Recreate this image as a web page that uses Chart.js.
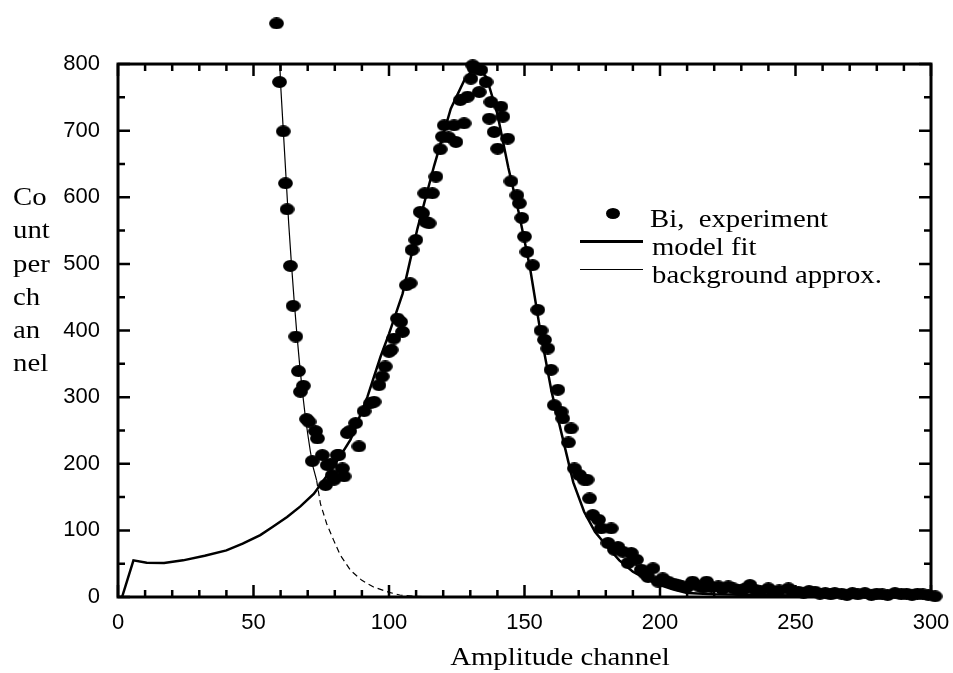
<!DOCTYPE html>
<html>
<head>
<meta charset="utf-8">
<script src="https://cdn.jsdelivr.net/npm/chart.js@4.4.1/dist/chart.umd.min.js"></script>
<style>
  html, body { margin: 0; padding: 0; background: #fff; }
  #wrap { position: relative; width: 953px; height: 673px; }
  .serif { position: absolute; font-family: "Liberation Serif", "Times New Roman", serif; font-size: 25px; color: #000; white-space: pre; transform-origin: left top; transform: scaleX(1.15); }
</style>
</head>
<body>
<div id="wrap">
  <canvas id="chart" width="953" height="673"></canvas>
  <div class="serif" style="left:13px; top:180px; line-height:33.3px;">Co<br>unt<br>per<br>ch<br>an<br>nel</div>
  <div class="serif" style="left:560px; top:644px; line-height:25px; transform-origin:center; transform:translateX(-50%) scaleX(1.15);">Amplitude channel</div>
  <div style="position:absolute; left:606px; top:208px; width:14px; height:11px; border-radius:50%; background:#000;"></div>
  <div style="position:absolute; left:580px; top:240px; width:63px; height:2.5px; background:#000;"></div>
  <div style="position:absolute; left:580px; top:269px; width:63px; height:1.2px; background:#000;"></div>
  <div class="serif" style="left:650px; top:206px; line-height:25px;">Bi,  experiment</div>
  <div class="serif" style="left:652px; top:234px; line-height:25px;">model fit</div>
  <div class="serif" style="left:652px; top:262px; line-height:25px;">background approx.</div>
</div>
<script>
// tick labels
const xTicks = [0, 50, 100, 150, 200, 250, 300];
const yTicks = [0, 100, 200, 300, 400, 500, 600, 700, 800];
const xMinorStep = 10;
const yMinorStep = 50;
// the y scale runs a bit past the frame so the one high point above it still shows
const yTop = 870;

// Bi, experiment (channel, counts)
const expX = [58.5, 59.6, 61, 61.8, 62.4, 63.6, 64.6, 65.6, 66.6, 67.3, 68.4, 69.6, 70.5, 71.7, 72.9, 73.6,
  75.4, 76.6, 77.2, 78.4, 79.1, 79.7, 80.9, 81.5, 82.8, 83.4, 84.6, 85.5, 87.7, 88.9, 90.8, 93.2, 94.5,
  96.3, 97.5, 98.6, 100, 100.8, 101.8, 103.1, 104.3, 105, 106.4, 107.8, 108.5, 109.9, 111.5, 112.4, 113.2,
  113.6, 114.8, 116, 117.3, 118.9, 119.7, 120.4, 122, 124, 124.7, 126.3, 127.7, 129, 130.2, 130.9, 131.5,
  133.3, 133.9, 135.8, 137, 137.6, 138.8, 140.1, 141.3, 142, 143.8, 145, 147.2, 148.1, 149, 150, 150.9,
  153, 154.9, 156.1, 157.4, 158.6, 159.8, 161, 162.3, 163.5, 164.1, 166.2, 167.2, 168.4, 170.3, 172, 173.1,
  174, 175.2, 177.3, 178.3, 180.8, 182, 183.2, 184.5, 186.3, 188.2, 189.4, 191.3, 193.1, 194.5, 195.6, 197.4,
  199.3, 201, 203, 205, 206.7, 208, 210, 212, 214, 216, 217.2, 219, 221.5, 223, 225.2, 227, 229, 231, 233.2,
  235, 237, 240, 242, 244, 247.4, 249, 251, 253, 255, 257.2, 259, 261, 263, 264.5, 267, 269, 271, 273,
  275.6, 278, 280, 282, 284, 286.7, 289, 291, 293, 295, 297, 299, 301.5];
const expY = [861, 773, 699, 621, 582, 497, 437, 391, 339, 308, 317, 267, 263, 204, 249, 238,
  213, 168, 198, 200, 183, 176, 213, 213, 193, 181, 246, 249, 261, 226, 279, 291, 293,
  318, 331, 346, 368, 371, 388, 418, 413, 398, 468, 471, 521, 536, 578, 576, 606,
  563, 561, 606, 631, 672, 691, 708, 690, 708, 683, 746, 711, 751, 778, 798, 793,
  758, 791, 773, 718, 743, 698, 673, 736, 721, 688, 624, 603, 591, 569, 541, 518,
  498, 431, 400, 386, 373, 341, 288, 311, 278, 268, 232, 253, 193, 183, 176, 176,
  148, 123, 116, 103, 81, 103, 71, 75, 68, 51, 66, 56, 41, 35, 30, 43,
  23, 28, 23, 20, 18, 16, 15, 23, 17, 14, 23, 15, 16, 12, 16, 13, 10, 12, 18,
  11, 9, 13, 8, 10, 13, 7, 8, 6, 9, 8, 5, 6, 4, 6, 5, 3, 6, 4,
  6, 3, 5, 4, 3, 6, 4, 5, 3, 5, 4, 3, 1];

// model fit
const fitX = [0, 1.5, 5.7, 10.6, 17, 24, 32, 40, 46, 52.5, 57, 62.4, 67.3, 72.3, 77.8, 81, 85.8, 92, 96.9,
  100, 105, 110.5, 116.7, 122.8, 127.7, 131, 133, 136, 140, 144, 148, 152, 156, 160, 164, 168, 172, 176,
  180, 185, 190, 195, 200, 205, 210, 220, 240, 270, 300];
const fitY = [0, 0, 55, 51.5, 51, 55, 62, 70, 80, 93, 105, 120, 136, 155, 186, 205, 236, 300, 361,
  395, 455, 553, 648, 733, 775, 792, 794, 780, 725, 645, 575, 495, 395, 308, 240, 172, 128, 98,
  78, 55, 38, 27, 18, 11, 6, 4, 2.5, 2, 1];

// background approx.
const bgX = [59.7, 60, 61, 62, 63, 64, 65, 66, 67, 68, 69, 70, 71, 72, 73.3, 74.7, 77, 79.6, 82, 85.8, 90,
  94.3, 100, 104, 110, 120];
const bgY = [800, 770, 700, 630, 560, 500, 445, 395, 350, 310, 275, 245, 218, 195, 175, 140, 110, 85, 63, 40, 25,
  15, 7, 3, 1, 0];

const pts = (xs, ys) => xs.map((x, i) => ({ x: x, y: ys[i] }));

// slightly wide elliptical dot, like the original marker
const dot = document.createElement("canvas");
dot.width = 15;
dot.height = 12;
const dg = dot.getContext("2d");
dg.fillStyle = "#000";
dg.beginPath();
dg.ellipse(7.5, 6, 7.4, 5.9, 0, 0, Math.PI * 2);
dg.fill();

const frameTicks = {
  id: "frameTicks",
  afterDatasetsDraw(chart) {
    const { ctx, chartArea: a, scales } = chart;
    const x = scales.x, y = scales.y;
    const top = y.getPixelForValue(yTicks[yTicks.length - 1]);
    ctx.save();
    ctx.strokeStyle = "#000";
    ctx.lineWidth = 2.5;
    ctx.beginPath();
    for (let v = xTicks[0]; v <= xTicks[xTicks.length - 1]; v += xMinorStep) {
      const px = x.getPixelForValue(v);
      const len = xTicks.includes(v) ? 12 : 7;
      ctx.moveTo(px, a.bottom); ctx.lineTo(px, a.bottom - len);
      ctx.moveTo(px, top); ctx.lineTo(px, top + len);
    }
    for (let v = yTicks[0]; v <= yTicks[yTicks.length - 1]; v += yMinorStep) {
      const py = y.getPixelForValue(v);
      const len = yTicks.includes(v) ? 12 : 7;
      ctx.moveTo(a.left, py); ctx.lineTo(a.left + len, py);
      ctx.moveTo(a.right, py); ctx.lineTo(a.right - len, py);
    }
    ctx.stroke();
    ctx.lineWidth = 3;
    ctx.strokeRect(a.left, top, a.right - a.left, a.bottom - top);
    ctx.restore();
  }
};

const tickFont = { family: "Liberation Sans", size: 22 };

new Chart(document.getElementById("chart"), {
  type: "scatter",
  data: {
    datasets: [
      {
        label: "background approx.",
        data: pts(bgX, bgY),
        showLine: true,
        borderColor: "#000",
        borderWidth: 1.2,
        pointRadius: 0,
        segment: { borderDash: (c) => (c.p0.parsed.x >= 73 ? [6, 4] : undefined) }
      },
      {
        label: "model fit",
        data: pts(fitX, fitY),
        showLine: true,
        borderColor: "#000",
        borderWidth: 2.5,
        pointRadius: 0
      },
      {
        label: "Bi, experiment",
        data: pts(expX, expY),
        pointStyle: dot,
        backgroundColor: "#000",
        borderColor: "#000",
        clip: false
      }
    ]
  },
  options: {
    responsive: false,
    animation: false,
    devicePixelRatio: 1,
    layout: { padding: { top: 17.4, right: 22, bottom: 0, left: 0 } },
    plugins: { legend: { display: false }, tooltip: { enabled: false } },
    scales: {
      x: {
        type: "linear",
        min: 0,
        max: 300,
        grid: { display: false, drawTicks: false },
        border: { display: false },
        afterBuildTicks: (s) => { s.ticks = xTicks.map((v) => ({ value: v })); },
        afterFit: (s) => { s.height = 76; s.paddingLeft = 0; s.paddingRight = 0; },
        ticks: { color: "#000", font: tickFont, padding: 13, maxRotation: 0 }
      },
      y: {
        type: "linear",
        min: 0,
        max: yTop,
        grid: { display: false, drawTicks: false },
        border: { display: false },
        afterBuildTicks: (s) => { s.ticks = yTicks.map((v) => ({ value: v })); },
        afterFit: (s) => { s.width = 118; s.paddingTop = 0; s.paddingBottom = 0; },
        ticks: { color: "#000", font: tickFont, padding: 18 }
      }
    }
  },
  plugins: [frameTicks]
});
</script>
</body>
</html>
